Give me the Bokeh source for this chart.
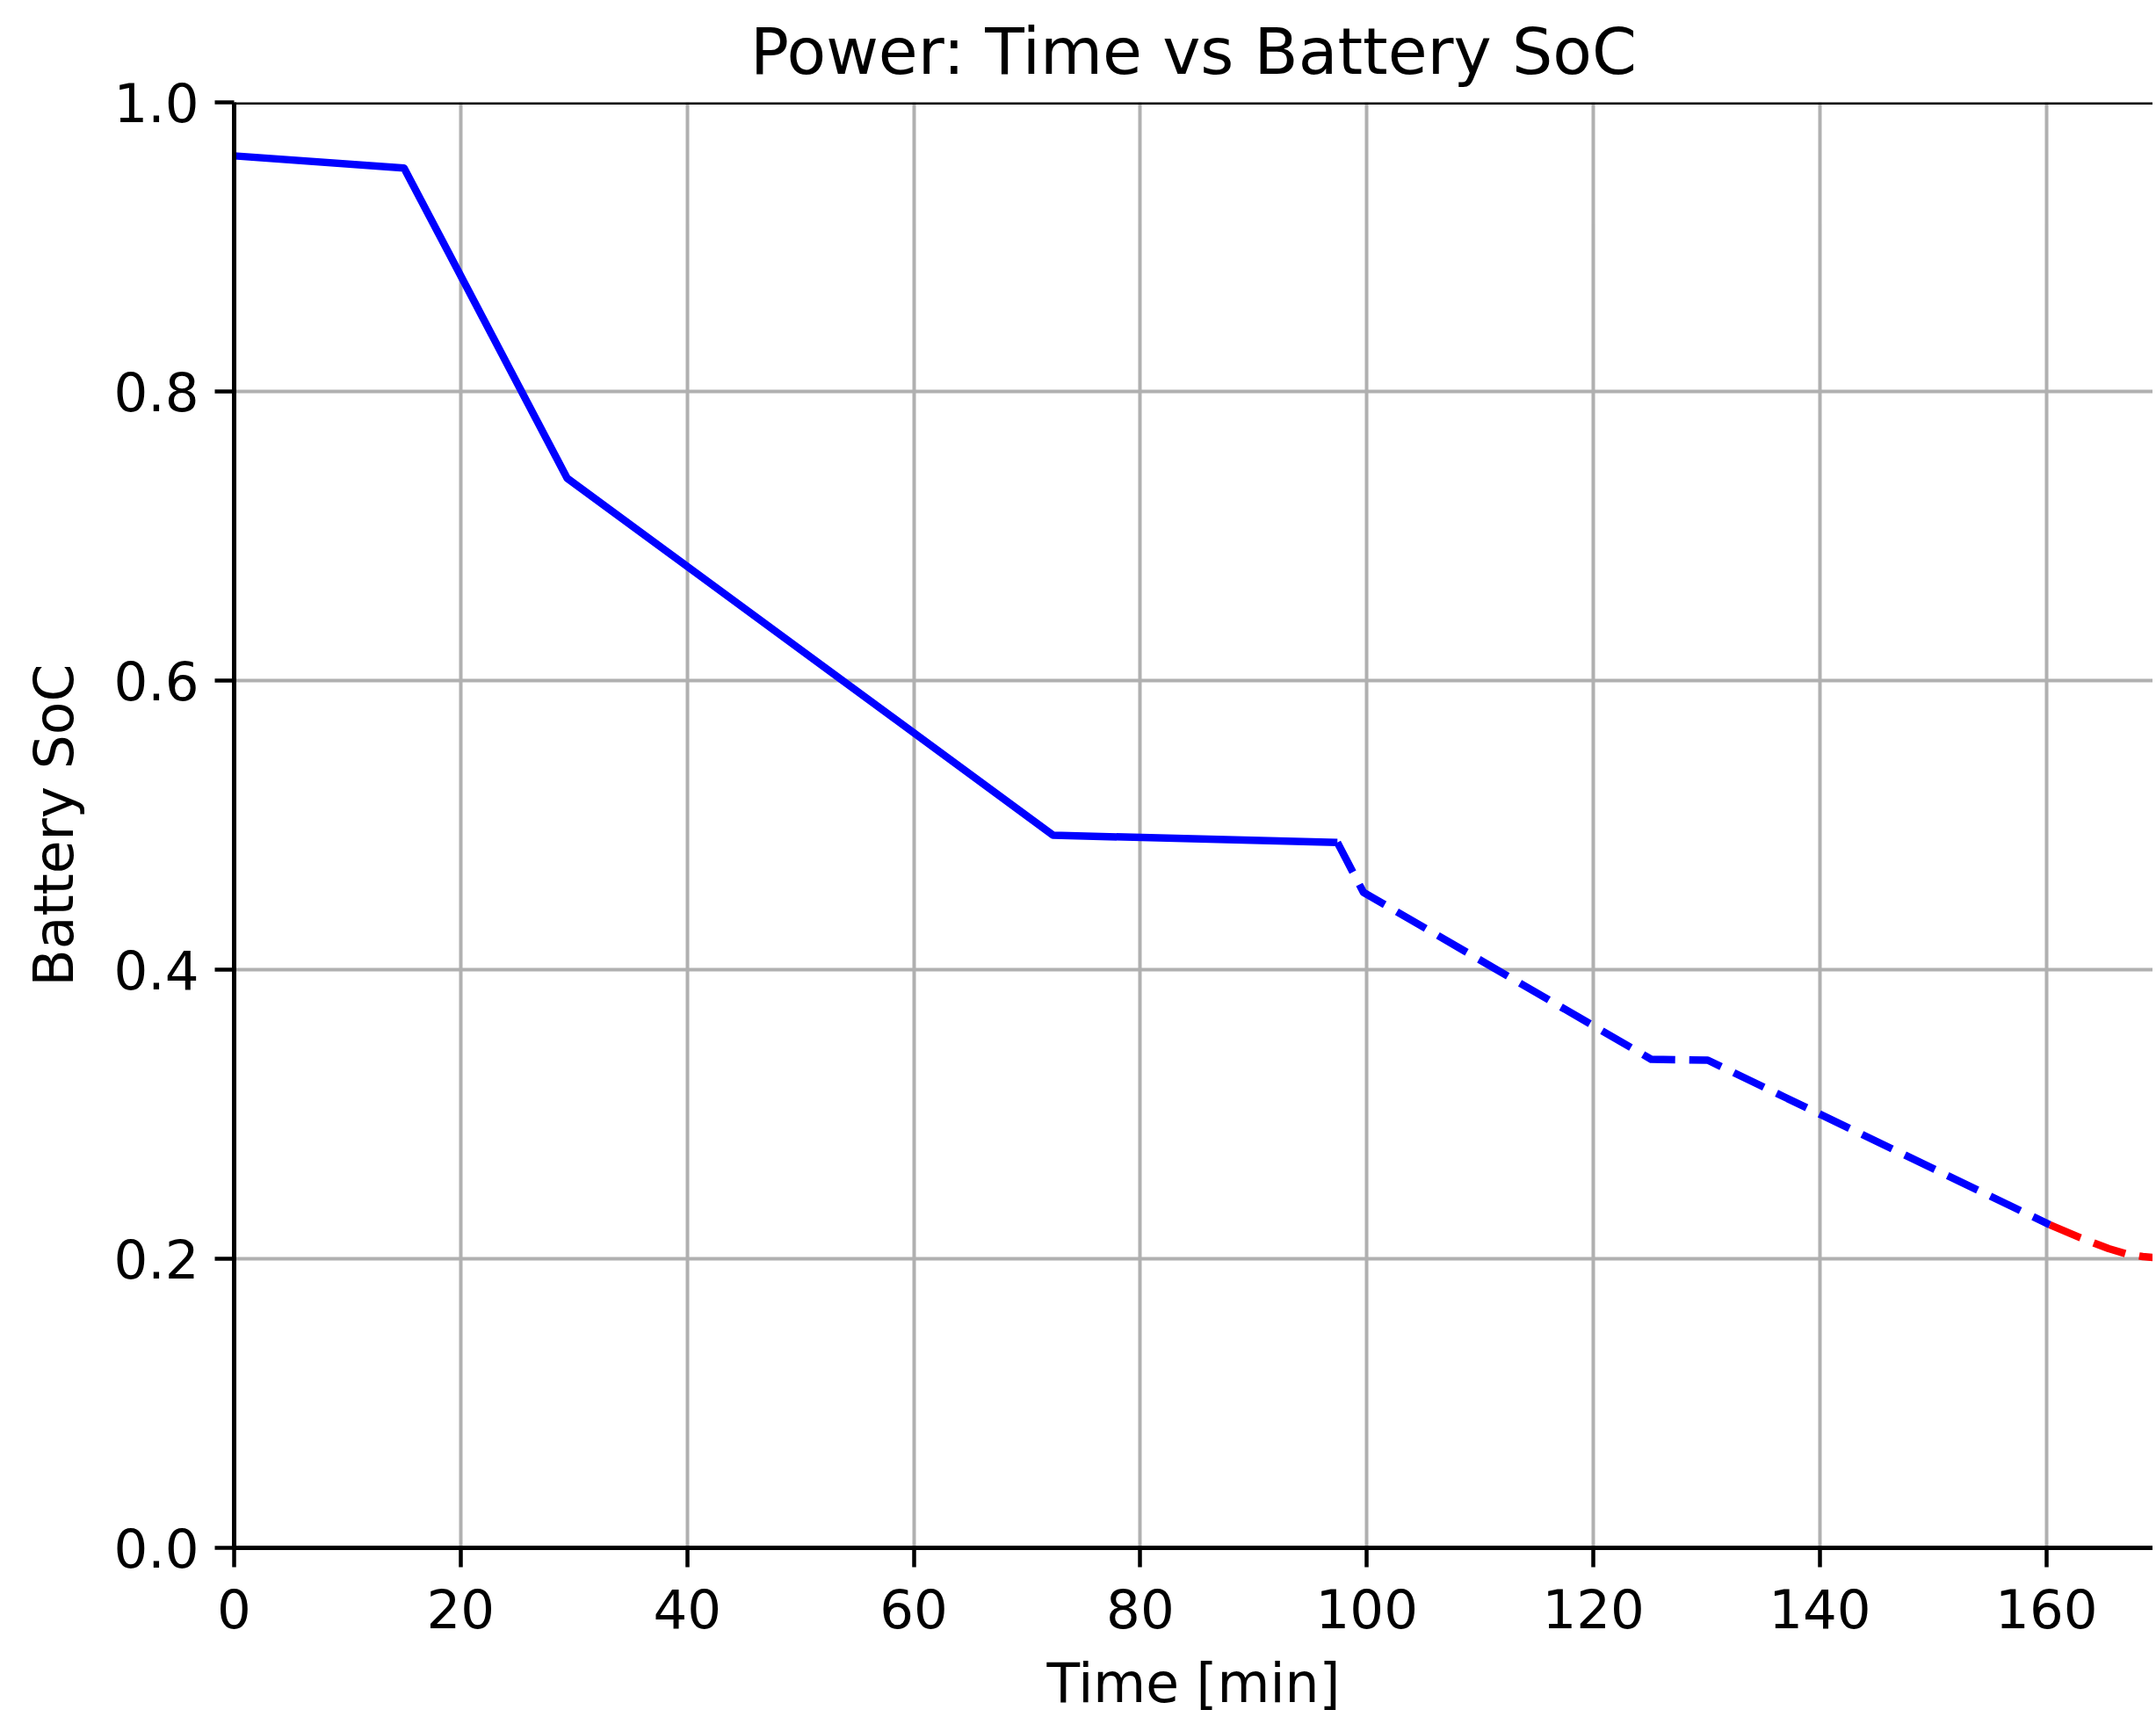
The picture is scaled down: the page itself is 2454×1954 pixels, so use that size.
from bokeh.plotting import figure
from bokeh.models import Range1d, FixedTicker, NumeralTickFormatter, Span, ColumnDataSource
from bokeh.embed import file_html
from bokeh.resources import INLINE

# --- data ---
time_solid = [0.0, 15.0, 29.4, 72.3, 97.4]
soc_solid = [0.963, 0.9546, 0.740, 0.493, 0.488]

time_dashed = [97.4, 99.7, 125.1, 130.1, 160.3]
soc_dashed = [0.488, 0.4535, 0.338, 0.3374, 0.2235]

time_red = [160.3, 163.0, 165.5, 167.0, 168.5, 170.0]
soc_red = [0.2235, 0.2145, 0.207, 0.2035, 0.2015, 0.2005]

x_ticks = [0, 20, 40, 60, 80, 100, 120, 140, 160]
y_ticks = [0.0, 0.2, 0.4, 0.6, 0.8, 1.0]

FONT = "DejaVu Sans"

p = figure(width=2450, height=1954,
           x_range=Range1d(0, 169.4), y_range=Range1d(0, 1.0),
           output_backend="svg", toolbar_location=None,
           min_border_left=266, min_border_right=0,
           min_border_top=116, min_border_bottom=193,
           title="Power: Time vs Battery SoC")

p.background_fill_color = "white"
p.border_fill_color = "white"
p.outline_line_color = None

p.title.text_font = FONT
p.title.text_font_size = "73px"
p.title.text_font_style = "normal"
p.title.text_color = "black"
p.title.align = "center"
p.title.vertical_align = "top"
p.title.standoff = 28
p.title.offset = 8

for ax in (p.xaxis[0], p.yaxis[0]):
    ax.axis_line_color = "black"
    ax.axis_line_width = 5
    ax.major_tick_line_color = "black"
    ax.major_tick_line_width = 4.5
    ax.major_tick_out = 22
    ax.major_tick_in = 0
    ax.minor_tick_line_color = None
    ax.major_label_text_font = FONT
    ax.major_label_text_font_size = "61px"
    ax.major_label_text_color = "black"
    ax.axis_label_text_font = FONT
    ax.axis_label_text_font_size = "61.5px"
    ax.axis_label_text_font_style = "normal"
    ax.axis_label_text_color = "black"

p.xaxis.ticker = FixedTicker(ticks=x_ticks)
p.yaxis.ticker = FixedTicker(ticks=y_ticks)
p.yaxis.formatter = NumeralTickFormatter(format="0.0")
p.xaxis.axis_label = "Time [min]"
p.yaxis.axis_label = "Battery SoC"
p.xaxis.major_label_standoff = 24
p.yaxis.major_label_standoff = 18
p.xaxis.axis_label_standoff = 24
p.yaxis.axis_label_standoff = 28

p.xgrid.ticker = FixedTicker(ticks=x_ticks)
p.ygrid.ticker = FixedTicker(ticks=y_ticks)
for g in (p.xgrid[0], p.ygrid[0]):
    g.grid_line_color = "#b0b0b0"
    g.grid_line_width = 4

# top spine
p.add_layout(Span(location=1.0, dimension="width", line_color="black", line_width=5))

s1 = ColumnDataSource(dict(x=time_solid, y=soc_solid))
s2 = ColumnDataSource(dict(x=time_dashed, y=soc_dashed))
s3 = ColumnDataSource(dict(x=time_red, y=soc_red))

p.line("x", "y", source=s1, line_color="#0000ff", line_width=8.5, line_join="round")
p.line("x", "y", source=s2, line_color="#0000ff", line_width=8.5, line_join="round",
       line_dash="38 16")
p.line("x", "y", source=s3, line_color="#ff0000", line_width=8.5, line_join="round",
       line_dash="38 16")

open("out.html", "w").write(file_html(p, INLINE))
